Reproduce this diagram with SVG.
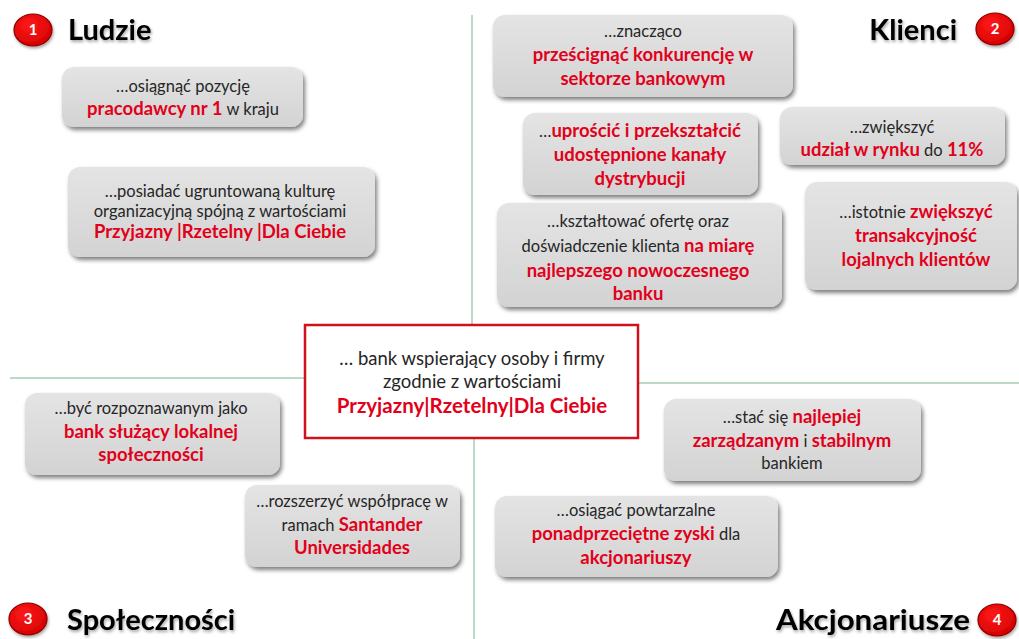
<svg xmlns="http://www.w3.org/2000/svg" width="1019" height="639" viewBox="0 0 1019 639">
<defs>
<linearGradient id="gBox" x1="0" y1="0" x2="0" y2="1">
<stop offset="0" stop-color="#e4e4e4"/>
<stop offset="1" stop-color="#d3d3d3"/>
</linearGradient>
<radialGradient id="gBadge" cx="0.4" cy="0.35" r="0.7">
<stop offset="0" stop-color="#ff1a1a"/>
<stop offset="1" stop-color="#d40000"/>
</radialGradient>
<filter id="shadow" x="-10%" y="-10%" width="125%" height="135%">
<feDropShadow dx="2" dy="3" stdDeviation="2" flood-color="#000" flood-opacity="0.5"/>
</filter>
<filter id="tshadow" x="-10%" y="-20%" width="125%" height="150%">
<feDropShadow dx="1" dy="2" stdDeviation="1.5" flood-color="#000" flood-opacity="0.35"/>
</filter>
<style>
.box{fill:url(#gBox);filter:url(#shadow)}
.txt{font-family:Lato,"Liberation Sans",sans-serif;font-size:16.5px;fill:#262626;text-anchor:middle}
.r{font-weight:700;fill:#e2001a;font-size:18.5px}
.c{font-size:18.5px}
.cr{font-size:20.5px}
.title{font-family:Lato,"Liberation Sans",sans-serif;font-weight:700;font-size:29px;fill:#000;filter:url(#tshadow)}
.badge{fill:url(#gBadge);stroke:#8a0000;stroke-width:1.2;filter:url(#tshadow)}
.num{font-family:Lato,"Liberation Sans",sans-serif;font-weight:700;font-size:15px;fill:#fff;text-anchor:middle}
.axis{stroke:#a9cbb4;stroke-width:1.5;fill:none}
</style>
</defs>
<rect width="1019" height="639" fill="#fff"/>

<g id="connectors">
<line class="axis" x1="472" y1="15" x2="472" y2="325"/>
<line class="axis" x1="474" y1="438" x2="474" y2="639"/>
<line class="axis" x1="10" y1="378" x2="305" y2="378"/>
<line class="axis" x1="638" y1="383" x2="1019" y2="383"/>
</g>

<g id="header-ludzie">
<ellipse class="badge" cx="33" cy="30" rx="19" ry="16"/>
<text class="num" x="33" y="35">1</text>
<text class="title" x="68" y="40">Ludzie</text>
</g>
<g id="header-klienci">
<text class="title" x="957" y="40" text-anchor="end">Klienci</text>
<ellipse class="badge" cx="995" cy="29" rx="19" ry="16"/>
<text class="num" x="995" y="34">2</text>
</g>
<g id="header-spolecznosci">
<ellipse class="badge" cx="28" cy="619" rx="19" ry="16"/>
<text class="num" x="28" y="624">3</text>
<text class="title" x="67" y="630">Społeczności</text>
</g>
<g id="header-akcjonariusze">
<text class="title" x="776" y="630" font-size="30" textLength="194" lengthAdjust="spacingAndGlyphs">Akcjonariusze</text>
<ellipse class="badge" cx="997" cy="620" rx="19" ry="16"/>
<text class="num" x="997" y="625">4</text>
</g>

<g id="center">
<rect x="305" y="325" width="333" height="113" fill="#fff" stroke="#d0101a" stroke-width="2.5"/>
<text class="txt c" x="472" y="365">… bank wspierający osoby i firmy</text>
<text class="txt c" x="472" y="388">zgodnie z wartościami</text>
<text class="txt r cr" x="472" y="413">Przyjazny|Rzetelny|Dla Ciebie</text>
</g>

<g id="box-pracodawca">
<rect class="box" x="62" y="67" width="241" height="60" rx="12"/>
<text class="txt" x="183" y="92">…osiągnąć pozycję</text>
<text class="txt" x="183" y="115"><tspan class="r">pracodawcy  nr 1</tspan> w kraju</text>
</g>

<g id="box-kultura">
<rect class="box" x="68" y="167" width="307" height="90" rx="12"/>
<text class="txt" x="220" y="197">…posiadać ugruntowaną kulturę</text>
<text class="txt" x="220" y="217">organizacyjną spójną  z wartościami</text>
<text class="txt r" x="220" y="238">Przyjazny |Rzetelny |Dla Ciebie</text>
</g>

<g id="box-konkurencja">
<rect class="box" x="493" y="15" width="300" height="82" rx="12"/>
<text class="txt" x="643" y="37">…znacząco</text>
<text class="txt r" x="643" y="61">prześcignąć  konkurencję w</text>
<text class="txt r" x="643" y="85">sektorze bankowym</text>
</g>

<g id="box-udzial">
<rect class="box" x="780" y="107" width="225" height="58" rx="12"/>
<text class="txt" x="892" y="133">…zwiększyć</text>
<text class="txt" x="892" y="156"><tspan class="r">udział w rynku</tspan> do <tspan class="r">11%</tspan></text>
</g>

<g id="box-kanaly">
<rect class="box" x="523" y="113" width="235" height="82" rx="12"/>
<text class="txt" x="640" y="137">…<tspan class="r">uprościć i przekształcić</tspan></text>
<text class="txt r" x="640" y="161">udostępnione  kanały</text>
<text class="txt r" x="640" y="185">dystrybucji</text>
</g>

<g id="box-transakcyjnosc">
<rect class="box" x="805" y="182" width="212" height="108" rx="12"/>
<text class="txt" x="916" y="218">…istotnie <tspan class="r">zwiększyć</tspan></text>
<text class="txt r" x="916" y="242">transakcyjność</text>
<text class="txt r" x="916" y="266">lojalnych klientów</text>
</g>

<g id="box-oferta">
<rect class="box" x="497" y="203" width="285" height="104" rx="12"/>
<text class="txt" x="638" y="227">…kształtować ofertę oraz</text>
<text class="txt" x="638" y="252">doświadczenie klienta <tspan class="r">na miarę</tspan></text>
<text class="txt r" x="638" y="277">najlepszego nowoczesnego</text>
<text class="txt r" x="638" y="300">banku</text>
</g>

<g id="box-lokalna">
<rect class="box" x="25" y="393" width="255" height="82" rx="12"/>
<text class="txt" x="151" y="414">…być rozpoznawanym jako</text>
<text class="txt r" x="151" y="438">bank służący lokalnej</text>
<text class="txt r" x="151" y="461">społeczności</text>
</g>

<g id="box-universidades">
<rect class="box" x="245" y="485" width="215" height="82" rx="12"/>
<text class="txt" x="352" y="507">…rozszerzyć współpracę w</text>
<text class="txt" x="352" y="531">ramach <tspan class="r">Santander</tspan></text>
<text class="txt r" x="352" y="554">Universidades</text>
</g>

<g id="box-zarzadzanie">
<rect class="box" x="664" y="399" width="257" height="82" rx="12"/>
<text class="txt" x="792" y="423">…stać się <tspan class="r">najlepiej</tspan></text>
<text class="txt" x="792" y="447"><tspan class="r">zarządzanym</tspan>  i <tspan class="r">stabilnym</tspan></text>
<text class="txt" x="792" y="469">bankiem</text>
</g>

<g id="box-zyski">
<rect class="box" x="495" y="496" width="283" height="81" rx="12"/>
<text class="txt" x="636" y="516">…osiągać  powtarzalne</text>
<text class="txt" x="636" y="540"><tspan class="r">ponadprzeciętne  zyski</tspan> dla</text>
<text class="txt r" x="636" y="564">akcjonariuszy</text>
</g>
</svg>
